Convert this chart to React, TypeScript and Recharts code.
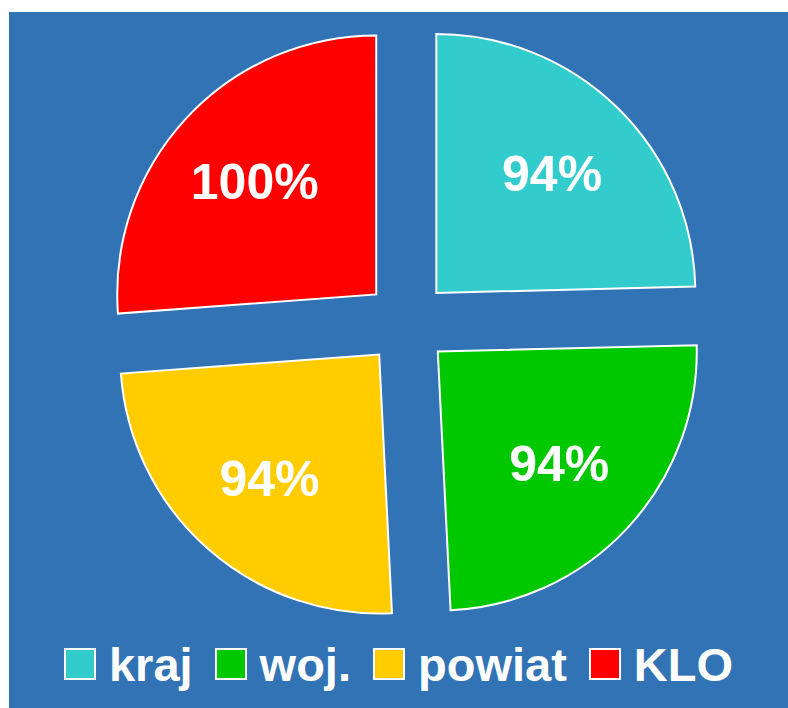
import { PieChart, Pie, Cell, Sector, Legend } from "recharts";

const NAMES = ["kraj", "woj.", "powiat", "KLO"];
const VALUES = [94, 94, 94, 100];
const COLORS = ["#33cccc", "#00c800", "#ffcc00", "#ff0000"];

const data = NAMES.map((name, i) => ({ name, value: VALUES[i] }));

const RAD = Math.PI / 180;
const EXPLODE = 42;

function ExplodedSector(props: any) {
  const { cx, cy, midAngle } = props;
  const dx = EXPLODE * Math.cos(-midAngle * RAD);
  const dy = EXPLODE * Math.sin(-midAngle * RAD);
  return <Sector {...props} cx={cx + dx} cy={cy + dy} />;
}

function renderLabel(props: any) {
  const { cx, cy, midAngle, outerRadius, value } = props;
  const r = EXPLODE + outerRadius * 0.64;
  const x = cx + r * Math.cos(-midAngle * RAD);
  const y = cy + r * Math.sin(-midAngle * RAD);
  return (
    <text x={x} y={y} fill="#fff" fontSize={50} fontWeight="bold"
      fontFamily="'Liberation Sans', Arial, sans-serif"
      textAnchor="middle" dominantBaseline="central">
      {`${value}%`}
    </text>
  );
}

function LegendRow() {
  return (
    <div style={{ height: 88, display: "flex", alignItems: "center", justifyContent: "center",
      fontFamily: "'Liberation Sans', Arial, sans-serif", fontWeight: "bold", fontSize: 47, color: "#fff" }}>
      {NAMES.map((n, i) => (
        <div key={n} style={{ display: "flex", alignItems: "center", marginRight: i < NAMES.length - 1 ? 22 : 0 }}>
          <span style={{ width: 28, height: 28, background: COLORS[i], border: "2px solid #fff", marginRight: 13 }} />
          <span style={{ lineHeight: "47px" }}>{n}</span>
        </div>
      ))}
    </div>
  );
}

export default function App() {
  return (
    <div style={{ position: "absolute", left: 9, top: 12, width: 779, height: 696, background: "#3173b4" }}>
      <PieChart width={779} height={696} margin={{ top: 0, right: 0, bottom: 0, left: 0 }}>
        <Pie data={data} dataKey="value" nameKey="name" cx={398} cy={311}
          outerRadius={259} startAngle={90} endAngle={-270}
          stroke="#fff" strokeWidth={2} labelLine={false} label={renderLabel}
          shape={ExplodedSector} inactiveShape={ExplodedSector} activeShape={ExplodedSector}
          isAnimationActive={false}>
          {data.map((_, i) => <Cell key={i} fill={COLORS[i]} />)}
        </Pie>
        <Legend verticalAlign="bottom" content={() => <LegendRow />} />
      </PieChart>
    </div>
  );
}
